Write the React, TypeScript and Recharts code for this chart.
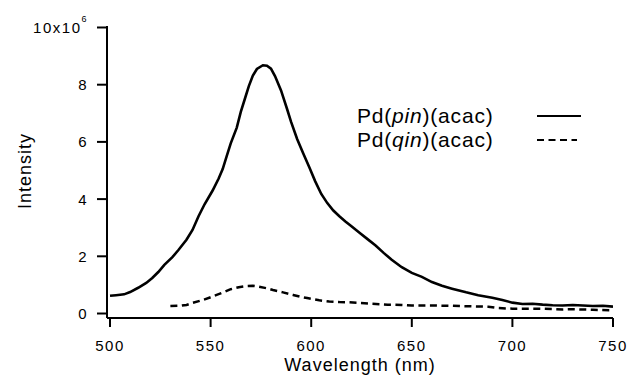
import React from 'react';
import { LineChart, Line, XAxis, YAxis, Legend } from 'recharts';

const pinWavelength = [500, 503, 507, 510, 514, 518, 521, 524, 527, 531, 534, 538, 541, 544, 547, 551, 554, 556, 558, 560, 563, 565, 567, 569, 571, 573, 576, 578, 580, 582, 585, 588, 590, 593, 596, 599, 602, 605, 608, 611, 614, 617, 620, 624, 628, 632, 636, 640, 645, 650, 655, 660, 665, 670, 677, 683, 690, 695, 700, 705, 710, 715, 720, 725, 730, 735, 740, 745, 750];
const pinIntensity = [0.62, 0.64, 0.67, 0.75, 0.9, 1.07, 1.24, 1.45, 1.7, 1.97, 2.22, 2.58, 2.92, 3.4, 3.82, 4.3, 4.72, 5.05, 5.5, 5.95, 6.5, 7.05, 7.5, 7.95, 8.32, 8.55, 8.68, 8.66, 8.56, 8.3, 7.8, 7.15, 6.7, 6.1, 5.6, 5.12, 4.62, 4.18, 3.86, 3.6, 3.4, 3.22, 3.05, 2.82, 2.6, 2.38, 2.12, 1.88, 1.62, 1.42, 1.28, 1.1, 0.97, 0.87, 0.74, 0.64, 0.55, 0.47, 0.38, 0.33, 0.34, 0.31, 0.29, 0.28, 0.3, 0.28, 0.26, 0.27, 0.24];

const qinWavelength = [530, 535, 538, 541, 546, 550, 553, 557, 560, 564, 568, 571, 574, 578, 581, 586, 591, 595, 598, 604, 609, 614, 619, 624, 630, 638, 645, 650, 660, 670, 680, 688, 693, 700, 710, 720, 725, 730, 740, 750];
const qinIntensity = [0.26, 0.27, 0.3, 0.37, 0.47, 0.57, 0.65, 0.76, 0.85, 0.92, 0.96, 0.97, 0.94, 0.88, 0.82, 0.74, 0.65, 0.58, 0.54, 0.46, 0.42, 0.4, 0.39, 0.37, 0.34, 0.31, 0.3, 0.28, 0.28, 0.27, 0.25, 0.24, 0.19, 0.17, 0.17, 0.16, 0.14, 0.15, 0.13, 0.11];

const xTicks = [500, 550, 600, 650, 700, 750];
const yTicks = [0, 2, 4, 6, 8, 10];
const seriesNames = ['Pd(pin)(acac)', 'Pd(qin)(acac)'];

const pinData = pinWavelength.map((x, i) => ({ x, y: pinIntensity[i] }));
const qinData = qinWavelength.map((x, i) => ({ x, y: qinIntensity[i] }));

const FONT = '"Liberation Sans", Arial, sans-serif';

const YTick = (props: any) => {
  const { x, y, payload } = props;
  if (payload.value === 10) {
    return (
      <text x={x} y={y} dy="0.36em" textAnchor="end" fontFamily={FONT} fontSize={15} letterSpacing={1.5} fill="#000">
        <tspan>10x10</tspan>
        <tspan dy={-11} fontSize={9}>6</tspan>
      </text>
    );
  }
  return (
    <text x={x} y={y} dy="0.36em" textAnchor="end" fontFamily={FONT} fontSize={15} letterSpacing={1.5} fill="#000">
      {payload.value}
    </text>
  );
};

const XLabel = (props: any) => {
  const vb = props.viewBox;
  return (
    <text x={vb.x + vb.width / 2} y={371} textAnchor="middle" fontFamily={FONT} fontSize={18} letterSpacing={1} fill="#000">
      Wavelength (nm)
    </text>
  );
};

const YLabel = () => {
  const cx = 25;
  const cy = 171;
  return (
    <text x={cx} y={cy} dy="0.36em" textAnchor="middle" transform={`rotate(-90 ${cx} ${cy})`} fontFamily={FONT} fontSize={18} letterSpacing={1} fill="#000">
      Intensity
    </text>
  );
};

const LegendContent = () => {
  const row = (name: string, dashed: boolean) => {
    const m = name.match(/^Pd\((\w+)\)(.*)$/);
    return (
      <div style={{ display: 'flex', alignItems: 'center', height: 24 }}>
        <span style={{ width: 180, fontFamily: FONT, fontSize: 21, letterSpacing: 0.8, lineHeight: '24px', color: '#000' }}>
          Pd(<i>{m ? m[1] : ''}</i>){m ? m[2] : ''}
        </span>
        <svg width={46} height={6}>
          <line x1={0} y1={3} x2={dashed ? 40 : 44} y2={3} stroke="#000" strokeWidth={2.2} strokeDasharray={dashed ? '7 4.5' : undefined} />
        </svg>
      </div>
    );
  };
  return (
    <div>
      {row(seriesNames[0], false)}
      {row(seriesNames[1], true)}
    </div>
  );
};

export default function App() {
  return (
    <div style={{ position: 'absolute', left: 0, top: 0 }}>
      <LineChart width={627} height={375} margin={{ top: 26, right: 14, bottom: 0, left: 0 }}>
        <XAxis
          type="number"
          dataKey="x"
          domain={[498.5, 750]}
          ticks={xTicks}
          allowDataOverflow
          height={57}
          tickSize={9}
          tickMargin={13}
          axisLine={{ stroke: '#000', strokeWidth: 2 }}
          tickLine={{ stroke: '#000', strokeWidth: 2 }}
          tick={{ fill: '#000', fontSize: 15, fontFamily: FONT, letterSpacing: 1.5 }}
          label={<XLabel />}
        />
        <YAxis
          type="number"
          dataKey="y"
          domain={[-0.157, 10.052]}
          ticks={yTicks}
          allowDataOverflow
          width={107}
          tickSize={10}
          tickMargin={9}
          axisLine={{ stroke: '#000', strokeWidth: 2 }}
          tickLine={{ stroke: '#000', strokeWidth: 2 }}
          tick={<YTick />}
          label={<YLabel />}
        />
        <Legend
          layout="vertical"
          align="center"
          verticalAlign="middle"
          content={<LegendContent />}
          wrapperStyle={{ position: 'absolute', left: 357, top: 104, width: 240 }}
        />
        <Line data={pinData} dataKey="y" name={seriesNames[0]} stroke="#000" strokeWidth={2.6} dot={false} type="linear" isAnimationActive={false} />
        <Line data={qinData} dataKey="y" name={seriesNames[1]} stroke="#000" strokeWidth={2.5} strokeDasharray="7 4.5" dot={false} type="linear" isAnimationActive={false} />
      </LineChart>
    </div>
  );
}
